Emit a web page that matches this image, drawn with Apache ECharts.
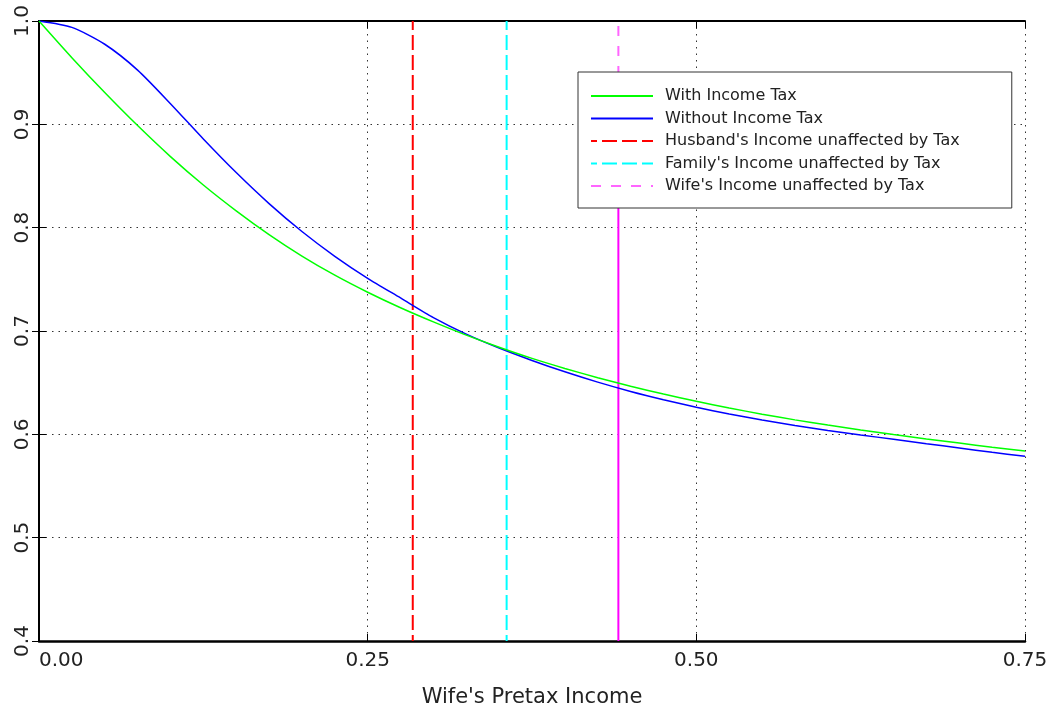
<!DOCTYPE html>
<html>
<head>
<meta charset="utf-8">
<script src="https://cdn.jsdelivr.net/npm/echarts@6/dist/echarts.min.js"></script>
<style>
html,body{margin:0;padding:0;background:#fff;}
#chart{width:1062px;height:720px;}
</style>
</head>
<body>
<div id="chart"></div>
<script>
// ---- data ----
const incomes = [0.000,0.025,0.050,0.075,0.100,0.125,0.150,0.175,0.200,0.225,0.250,0.275,0.300,0.325,0.350,0.375,0.400,0.425,0.450,0.475,0.500,0.525,0.550,0.575,0.600,0.625,0.650,0.675,0.700,0.725,0.750];
const withTax = [1.000,0.9645,0.9308,0.8988,0.8688,0.8413,0.8163,0.7933,0.7725,0.7540,0.7375,0.7225,0.7088,0.6960,0.6843,0.6735,0.6638,0.6548,0.6465,0.6390,0.6320,0.6255,0.6195,0.6140,0.6090,0.6043,0.5998,0.5955,0.5915,0.5875,0.5838];
const withoutTax = [1.000,0.9938,0.9775,0.9525,0.9200,0.8858,0.8533,0.8233,0.7963,0.7723,0.7510,0.7320,0.7130,0.6970,0.6835,0.6715,0.6605,0.6505,0.6415,0.6335,0.6262,0.6197,0.6138,0.6085,0.6037,0.5993,0.5953,0.5910,0.5868,0.5826,0.5787];
const husbandX = 0.2843;
const familyX = 0.3557;
const wifeX = 0.4407;
const wifeSolidTop = 0.85;
const seriesNames = ["With Income Tax","Without Income Tax","Husband's Income unaffected by Tax","Family's Income unaffected by Tax","Wife's Income unaffected by Tax"];
const yMin = 0.4, yMax = 1.0;
const xMin = 0, xMax = 0.75;
const xTitle = "Wife's Pretax Income";

const FONT = "DejaVu Sans";
const pair = (xs, ys) => xs.map((x, i) => [x, ys[i]]);

const chart = echarts.init(document.getElementById('chart'), null, {renderer: 'canvas'});
const dotted = {type: [1.5, 5], color: '#333', width: 1};
const option = {
  animation: false,
  backgroundColor: '#fff',
  grid: {left: 39, right: 37, top: 21, bottom: 79, containLabel: false},
  legend: {
    data: seriesNames,
    orient: 'vertical',
    left: 578, top: 72,
    padding: [16, 52, 14, 12],
    itemWidth: 62, itemHeight: 14, itemGap: 6.5,
    backgroundColor: '#fff',
    borderColor: '#333', borderWidth: 1,
    itemStyle: {opacity: 0},
    textStyle: {fontFamily: FONT, fontSize: 16, color: '#222', padding: [0,0,0,7]},
    selectedMode: false
  },
  xAxis: [{
    type: 'value', min: xMin, max: xMax, interval: 0.25, position: 'bottom',
    axisLine: {lineStyle: {color: '#000', width: 2.5}},
    axisTick: {inside: true, length: 7, lineStyle: {color: '#000', width: 1}},
    axisLabel: {fontFamily: FONT, fontSize: 20, color: '#222', margin: 10,
      formatter: v => v.toFixed(2), alignMinLabel: 'left'},
    splitLine: {show: true, lineStyle: dotted},
    name: xTitle, nameLocation: 'middle', nameGap: 46,
    nameTextStyle: {fontFamily: FONT, fontSize: 21, color: '#222'}
  }, {
    type: 'value', min: xMin, max: xMax, interval: 0.25, position: 'top',
    axisLine: {show: true, lineStyle: {color: '#000', width: 2}},
    axisTick: {show: true, inside: true, length: 7, lineStyle: {color: '#000'}},
    axisLabel: {show: false}, splitLine: {show: false}
  }],
  yAxis: [{
    type: 'value', min: yMin, max: yMax, interval: 0.1, position: 'left',
    axisLine: {show: true, lineStyle: {color: '#000', width: 2}},
    axisTick: {show: true, inside: true, length: 7, lineStyle: {color: '#000'}},
    axisLabel: {fontFamily: FONT, fontSize: 20, color: '#222', margin: 6, rotate: 90,
      formatter: v => v.toFixed(1)},
    splitLine: {show: true, lineStyle: dotted}
  }, {
    type: 'value', min: yMin, max: yMax, interval: 0.1, position: 'right',
    axisLine: {show: true, lineStyle: {color: '#000', width: 2}},
    axisTick: {show: true, inside: true, length: 7, lineStyle: {color: '#000'}},
    axisLabel: {show: false}, splitLine: {show: false}
  }],
  series: [
    {name: seriesNames[0], type: 'line', data: pair(incomes, withTax), smooth: 0.25, symbol: 'none',
      lineStyle: {color: '#00ff00', width: 1.5}, itemStyle: {color: '#00ff00'}, z: 5},
    {name: seriesNames[1], type: 'line', data: pair(incomes, withoutTax), smooth: 0.25, symbol: 'none',
      lineStyle: {color: '#0000ff', width: 1.5}, itemStyle: {color: '#0000ff'}, z: 4},
    {name: seriesNames[2], type: 'line', data: [[husbandX, yMin], [husbandX, yMax]], symbol: 'none',
      lineStyle: {color: '#ff0000', width: 2, type: [15, 5], dashOffset: 9}, itemStyle: {color: '#ff0000'}, z: 3},
    {name: seriesNames[3], type: 'line', data: [[familyX, yMin], [familyX, yMax]], symbol: 'none',
      lineStyle: {color: '#00ffff', width: 2, type: [15, 5], dashOffset: 9}, itemStyle: {color: '#00ffff'}, z: 3},
    {name: seriesNames[4], type: 'line', data: [[wifeX, wifeSolidTop], [wifeX, yMax]], symbol: 'none',
      lineStyle: {color: '#ff66ff', width: 2, type: [10, 10], dashOffset: 0}, itemStyle: {color: '#ff00ff'}, z: 3},
    {name: 'wife-solid', type: 'line', data: [[wifeX, yMin], [wifeX, wifeSolidTop]], symbol: 'none',
      lineStyle: {color: '#ff00ff', width: 2}, itemStyle: {color: '#ff00ff'}, z: 3}
  ]
};
chart.setOption(option);
</script>
</body>
</html>
